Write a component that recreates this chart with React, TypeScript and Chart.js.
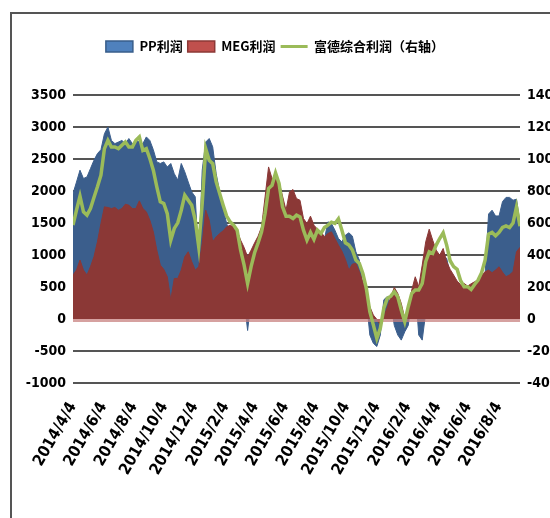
import { useEffect, useRef } from 'react';
import { Chart, registerables } from 'chart.js';

Chart.register(...registerables);

// Weekly samples starting 2014/4/4 (one value per week)
const startDate = '2014/4/4';
const sampleStepDays = 7;

const tickLabels = [
  '2014/4/4', '2014/6/4', '2014/8/4', '2014/10/4', '2014/12/4',
  '2015/2/4', '2015/4/4', '2015/6/4', '2015/8/4', '2015/10/4',
  '2015/12/4', '2016/2/4', '2016/4/4', '2016/6/4', '2016/8/4',
];

const legendNames = ['PP利润', 'MEG利润', '富德综合利润（右轴）'];

const ppProfit = [
  1960, 2140, 2325, 2195, 2220, 2350, 2480, 2585, 2645, 2895,
  3000, 2790, 2740, 2765, 2790, 2740, 2820, 2740, 2790, 2765,
  2740, 2845, 2790, 2645, 2455, 2430, 2455, 2375, 2430, 2270,
  2170, 2430, 2300, 2140, 1985, 1910, 900, 2325, 2765, 2820,
  2690, 2270, 1985, 1725, 1490, 1350, 1250, 1100, 800, 300,
  -180, 300, 700, 900, 1100, 1300, 1500, 1600, 1600, 1500,
  1400, 1300, 1350, 1400, 1350, 1300, 1250, 1200, 1250, 1250,
  1300, 1300, 1250, 1518, 1492, 1388, 1258, 1206, 1310, 1347,
  1295, 1050, 920, 500, 300, -250, -380, -430, -250, 300,
  350, 250, -100, -250, -330, -200, -100, 300, 500, -250,
  -330, 100, 1000, 1000, 900, 850, 950, 950, 700, 600,
  520, 480, 500, 480, 520, 560, 620, 660, 700, 1640,
  1700, 1610, 1610, 1835, 1900, 1900, 1856, 1872, 1500,
];

const megProfit = [
  686, 764, 920, 764, 686, 816, 972, 1206, 1492, 1752,
  1742, 1726, 1742, 1700, 1726, 1794, 1778, 1726, 1726, 1846,
  1726, 1674, 1544, 1362, 1076, 842, 775, 660, 296, 634,
  634, 764, 972, 1050, 894, 764, 816, 1180, 1700, 1544,
  1206, 1284, 1336, 1378, 1440, 1466, 1440, 1378, 1232, 1118,
  972, 1076, 1190, 1294, 1440, 1908, 2376, 2194, 2220, 2142,
  1920, 1700, 1986, 2023, 1882, 1856, 1570, 1492, 1607, 1466,
  1404, 1362, 1284, 1336, 1362, 1258, 1154, 1061, 931, 764,
  858, 868, 738, 582, 400, 192, 62, -5, -94, 36,
  182, 338, 494, 400, 244, 10, 130, 452, 660, 504,
  842, 1206, 1404, 1232, 1076, 998, 1102, 894, 775, 686,
  593, 536, 556, 515, 551, 582, 608, 686, 738, 764,
  723, 764, 816, 730, 660, 690, 740, 1050, 1120,
];

const fudeProfit = [
  587, 680, 768, 670, 649, 690, 759, 826, 899, 1065,
  1117, 1075, 1075, 1065, 1086, 1107, 1075, 1075, 1117, 1138,
  1054, 1065, 1003, 930, 826, 732, 722, 659, 493, 566,
  601, 680, 774, 742, 711, 618, 451, 722, 1065, 992,
  971, 857, 784, 711, 643, 607, 587, 555, 431, 337,
  222, 327, 414, 476, 545, 659, 815, 836, 913, 847,
  701, 642, 642, 628, 649, 638, 555, 493, 541, 497,
  555, 534, 572, 587, 605, 597, 626, 555, 476, 462,
  431, 368, 347, 285, 191, 46, -37, -121, -58, 67,
  129, 143, 171, 139, 56, -17, 77, 160, 181, 181,
  222, 358, 420, 410, 462, 503, 539, 462, 364, 327,
  310, 239, 202, 202, 185, 216, 243, 289, 368, 530,
  541, 520, 541, 572, 582, 572, 600, 700, 580,
];

function dayOffset(s: string): number {
  const [y, m, d] = s.split('/').map(Number);
  const [y0, m0, d0] = startDate.split('/').map(Number);
  return Math.round((Date.UTC(y, m - 1, d) - Date.UTC(y0, m0 - 1, d0)) / 86400000);
}

const toPoints = (arr: number[]) => arr.map((v, i) => ({ x: i * sampleStepDays, y: v }));

const tickFont = "'DejaVu Sans Condensed', 'Liberation Sans', sans-serif";

export default function App() {
  const ref = useRef<HTMLCanvasElement | null>(null);

  useEffect(() => {
    if (!ref.current) return;
    const lastX = (ppProfit.length - 1) * sampleStepDays;

    const zeroBand = {
      id: 'zeroBand',
      beforeDatasetDraw(chart: any, args: any) {
        if (args.index !== 2) return;
        const { ctx, chartArea, scales } = chart;
        const y0 = scales.y.getPixelForValue(0);
        ctx.save();
        ctx.fillStyle = 'rgba(200,130,128,0.75)';
        ctx.fillRect(chartArea.left, y0, chartArea.right - chartArea.left, 3);
        ctx.restore();
      },
    };

    const chart = new Chart(ref.current, {
      type: 'line',
      data: {
        datasets: [
          {
            label: legendNames[0],
            data: toPoints(ppProfit),
            xAxisID: 'x',
            yAxisID: 'y',
            borderColor: '#3B5E8C',
            backgroundColor: '#3B5E8C',
            borderWidth: 1,
            fill: 'origin',
            pointRadius: 0,
            pointHoverRadius: 0,
            tension: 0,
            order: 2,
          },
          {
            label: legendNames[1],
            data: toPoints(megProfit),
            xAxisID: 'x',
            yAxisID: 'y',
            borderColor: '#8B3836',
            backgroundColor: '#8B3836',
            borderWidth: 1,
            fill: 'origin',
            pointRadius: 0,
            pointHoverRadius: 0,
            tension: 0,
            order: 1,
          },
          {
            label: legendNames[2],
            data: toPoints(fudeProfit),
            xAxisID: 'x',
            yAxisID: 'y1',
            borderColor: '#9BBB59',
            backgroundColor: '#9BBB59',
            borderWidth: 3.5,
            fill: false,
            pointRadius: 0,
            pointHoverRadius: 0,
            tension: 0,
            order: 0,
          },
        ],
      },
      options: {
        responsive: false,
        animation: false,
        layout: { padding: { top: 35, left: 0, right: 0, bottom: 0 } },
        plugins: {
          tooltip: { enabled: false },
          legend: {
            position: 'top',
            labels: {
              usePointStyle: true,
              pointStyleWidth: 27,
              boxHeight: 11,
              padding: 5,
              color: '#000',
              font: { family: "'Noto Sans CJK SC', sans-serif", size: 13, weight: 'bold' },
              sort: (a: any, b: any) => a.datasetIndex - b.datasetIndex,
              generateLabels: (c: any) => {
                const items = (Chart.defaults.plugins.legend.labels as any).generateLabels(c);
                return items.map((it: any) => {
                  if (it.datasetIndex === 2) {
                    return { ...it, pointStyle: 'line', strokeStyle: '#9BBB59', lineWidth: 3, fillStyle: '#9BBB59' };
                  }
                  if (it.datasetIndex === 0) {
                    return { ...it, pointStyle: 'rect', fillStyle: '#4F81BD', strokeStyle: '#385D8A', lineWidth: 1.5 };
                  }
                  return { ...it, pointStyle: 'rect', fillStyle: '#C0504D', strokeStyle: '#8C3836', lineWidth: 1.5 };
                });
              },
            },
          },
        },
        scales: {
          x: {
            type: 'linear',
            position: 'bottom',
            min: 0,
            max: lastX,
            afterBuildTicks: (s: any) => {
              s.ticks = tickLabels.map((t) => ({ value: dayOffset(t) }));
            },
            afterFit: (s: any) => {
              s.height = 135;
            },
            grid: { display: false, drawTicks: false },
            border: { display: false },
            ticks: {
              autoSkip: false,
              minRotation: 60,
              maxRotation: 60,
              padding: 16,
              color: '#000',
              font: { family: tickFont, size: 16, weight: 'bold' },
              callback: (_v: any, i: number) => tickLabels[i],
            },
          },
          xTop: {
            type: 'linear',
            position: 'top',
            display: true,
            grid: { display: false, drawTicks: false },
            border: { display: false },
            ticks: { display: false },
            afterFit: (s: any) => {
              s.height = 32;
            },
          },
          y: {
            position: 'left',
            min: -1000,
            max: 3500,
            afterFit: (s: any) => {
              s.width = 73;
            },
            grid: {
              drawTicks: false,
              lineWidth: 2,
              color: (ctx: any) => (ctx.tick && ctx.tick.value === 0 ? 'rgba(0,0,0,0)' : '#555'),
            },
            border: { display: false },
            ticks: {
              stepSize: 500,
              padding: 7,
              color: '#000',
              font: { family: tickFont, size: 14, weight: 'bold' },
              callback: (v: any) => String(v),
            },
          },
          y1: {
            position: 'right',
            min: -400,
            max: 1400,
            afterFit: (s: any) => {
              s.width = 30;
            },
            grid: { drawOnChartArea: false, drawTicks: false },
            border: { display: false },
            ticks: {
              stepSize: 200,
              padding: 7,
              color: '#000',
              font: { family: tickFont, size: 14, weight: 'bold' },
              callback: (v: any) => String(v),
            },
          },
        },
      },
      plugins: [zeroBand],
    });

    return () => chart.destroy();
  }, []);

  return (
    <div
      style={{
        position: 'fixed',
        left: 0,
        top: 0,
        width: 550,
        height: 518,
        overflow: 'hidden',
        background: '#fff',
      }}
    >
      <canvas ref={ref} width={550} height={518} style={{ display: 'block', width: 550, height: 518 }} />
      <div
        style={{
          position: 'absolute',
          left: 10,
          top: 12,
          width: 700,
          height: 700,
          borderLeft: '2px solid #555',
          borderTop: '2px solid #555',
          pointerEvents: 'none',
        }}
      />
    </div>
  );
}
